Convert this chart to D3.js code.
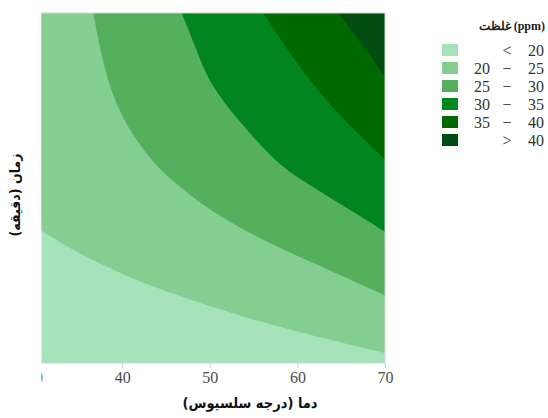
<!DOCTYPE html>
<html>
<head>
<meta charset="utf-8">
<script src="https://cdn.jsdelivr.net/npm/d3@7"></script>
<style>
  body { margin: 0; background: #fff; }
  svg { display: block; }
  .serif { font-family: "Liberation Serif", "Times New Roman", Times, "DejaVu Serif", serif; }
  .fa { font-family: "DejaVu Sans Condensed", "DejaVu Sans", sans-serif; font-weight: bold; }
</style>
</head>
<body>
<svg width="548" height="418"></svg>
<script>
// contour levels (ppm) and the band colours, lowest first
const levels = [20, 25, 30, 35, 40];
const bandColors = ["#a6e3bb", "#84ce91", "#55b05d", "#00851f", "#006a00", "#004d12"];
const bandLabels = [["", "<", "20"], ["20", "\u2212", "25"], ["25", "\u2212", "30"],
                    ["30", "\u2212", "35"], ["35", "\u2212", "40"], ["", ">", "40"]];

// contour lines: [temperature (°C), time (min)]
const line20 = [[30, 23.4], [34.4, 19.3], [38.2, 16.5], [42.0, 13.9], [45.8, 11.9],
                [50.0, 9.7], [55.7, 7.1], [61.4, 4.8], [70, 1.7]];
const line25 = [[36.7, 60], [37.7, 52.2], [38.8, 46.3], [40.5, 40.6], [43.2, 34.9],
                [45.5, 31.5], [50.0, 26.1], [55.7, 21.3], [61.4, 17.4], [70, 11.6]];
const line30 = [[46.8, 60], [48.5, 53.7], [50.0, 47.7], [53.8, 40.6], [57.6, 34.4],
                [60.3, 31.5], [65.2, 27.0], [70, 22.5]];
const line35 = [[56.1, 60], [59.5, 52.2], [63.4, 44.6], [67.2, 38.9], [70, 34.9]];
const line40 = [[64.7, 60], [67.5, 54.3], [70, 49.1]];
const contourLines = [line20, line25, line30, line35, line40];

const xTicks = [30, 40, 50, 60, 70];

const svg = d3.select("svg");
const x = d3.scaleLinear().domain([30, 70]).range([34.5, 385]);
const y = d3.scaleLinear().domain([0, 60]).range([363, 13]);

svg.append("clipPath").attr("id", "clip")
  .append("rect")
  .attr("x", 41.5).attr("y", 0)
  .attr("width", 400).attr("height", 418);

const plot = svg.append("g").attr("clip-path", "url(#clip)");

// lowest band fills the panel
plot.append("rect")
  .attr("x", x(30)).attr("y", y(60))
  .attr("width", x(70) - x(30)).attr("height", y(0) - y(60))
  .attr("fill", bandColors[0]);

const area = d3.area()
  .x(d => x(d[0]))
  .y0(y(60))
  .y1(d => y(d[1]))
  .curve(d3.curveBasis);

plot.selectAll("path.band")
  .data(contourLines)
  .join("path")
  .attr("class", "band")
  .attr("d", area)
  .attr("fill", (d, i) => bandColors[i + 1]);

plot.append("rect")
  .attr("x", x(30)).attr("y", y(60))
  .attr("width", x(70) - x(30)).attr("height", y(0) - y(60))
  .attr("fill", "none")
  .attr("stroke", "#d4d4d4")
  .attr("stroke-width", 1);

const xAxis = plot.append("g")
  .attr("transform", `translate(0,${y(0)})`)
  .call(d3.axisBottom(x).tickValues(xTicks).tickSize(5).tickPadding(4).tickFormat(d3.format("d")));
xAxis.select(".domain").remove();
xAxis.selectAll(".tick line").attr("stroke", "#d0d0d0");
xAxis.selectAll(".tick text")
  .attr("class", "serif")
  .attr("font-family", null)
  .attr("fill", "#4d4d4d")
  .style("font-size", "16px");

svg.append("text")
  .attr("class", "fa")
  .attr("x", 250).attr("y", 408)
  .attr("text-anchor", "middle")
  .style("font-size", "14.5px")
  .attr("fill", "#111")
  .text("دما (درجه سلسیوس)");

svg.append("text")
  .attr("class", "fa")
  .attr("transform", "translate(20,195) rotate(-90)")
  .attr("text-anchor", "middle")
  .style("font-size", "14px")
  .attr("fill", "#111")
  .text("زمان (دقیقه)");

// legend
const legend = svg.append("g");
legend.append("text")
  .attr("class", "serif")
  .attr("x", 545).attr("y", 30)
  .attr("text-anchor", "end")
  .style("font-weight", "bold")
  .style("font-size", "12px")
  .attr("fill", "#222")
  .text("غلظت (ppm)");

const rows = legend.selectAll("g.row")
  .data(bandColors)
  .join("g")
  .attr("class", "row")
  .attr("transform", (d, i) => `translate(0,${50 + i * 18})`);

rows.append("rect")
  .attr("x", 442).attr("y", -6)
  .attr("width", 16).attr("height", 12)
  .attr("fill", d => d);

const cols = [[490, "end"], [507, "middle"], [544, "end"]];
rows.each(function (d, i) {
  const g = d3.select(this);
  bandLabels[i].forEach((t, j) => {
    g.append("text")
      .attr("class", "serif")
      .attr("x", cols[j][0]).attr("y", 5.5)
      .attr("text-anchor", cols[j][1])
      .style("font-size", "16px")
      .attr("fill", "#333")
      .text(t);
  });
});
</script>
</body>
</html>
